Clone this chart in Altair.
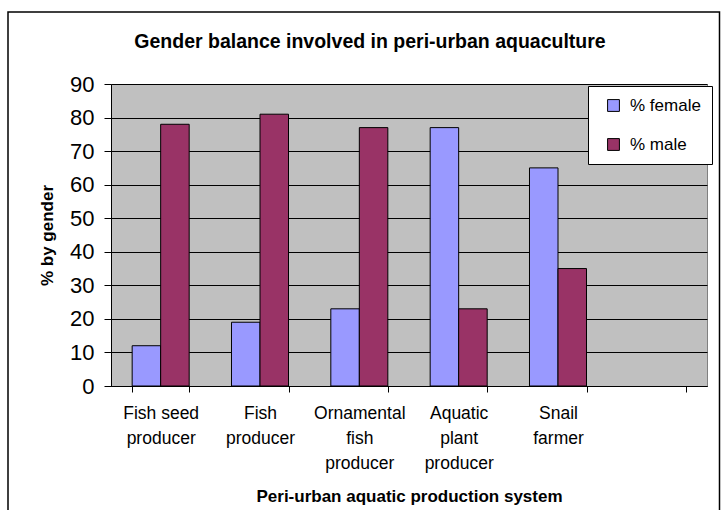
import altair as alt
import pandas as pd

categories = ["Fish seed|producer", "Fish|producer", "Ornamental|fish|producer",
              "Aquatic|plant|producer", "Snail|farmer"]
blank_slot = "_"
series = ["% female", "% male"]
female = [12, 19, 23, 77, 65]
male = [78, 81, 77, 23, 35]
y_ticks = [0, 10, 20, 30, 40, 50, 60, 70, 80, 90]
colors = ["#9999FF", "#993366"]

rows = []
for c, f, m in zip(categories, female, male):
    rows.append({"cat": c, "series": series[0], "value": f})
    rows.append({"cat": c, "series": series[1], "value": m})
df = pd.DataFrame(rows)

FONT = "Liberation Sans"

bars = alt.Chart(df).mark_bar(stroke="black", strokeWidth=1).encode(
    x=alt.X("cat:N", sort=categories + [blank_slot],
            scale=alt.Scale(domain=categories + [blank_slot], paddingInner=0.426, paddingOuter=0.213),
            axis=alt.Axis(title="Peri-urban aquatic production system",
                          labelExpr="datum.label == '_' ? '' : split(datum.label, '|')",
                          labelAngle=0, labelFontSize=17.5, labelLineHeight=25,
                          labelColor="black", labelFont=FONT, labelPadding=12,
                          tickBand="extent", tickSize=6, tickColor="black",
                          domainColor="black", titleFontSize=17, titleFont=FONT,
                          titleFontWeight="bold", titleColor="black", titlePadding=17,
                          grid=False)),
    xOffset=alt.XOffset("series:N", sort=series,
                        scale=alt.Scale(paddingInner=0, paddingOuter=0)),
    y=alt.Y("value:Q", scale=alt.Scale(domain=[0, 90], nice=False),
            axis=alt.Axis(title="% by gender", values=y_ticks, labelFontSize=22,
                          labelFont=FONT, labelColor="black", labelPadding=10,
                          tickSize=7, tickColor="black", domainColor="black",
                          grid=True, gridColor="black", gridWidth=1, gridOpacity=1,
                          titleFontSize=17, titleFont=FONT, titleFontWeight="bold",
                          titleColor="black", titlePadding=13)),
    color=alt.Color("series:N", sort=series,
                    scale=alt.Scale(domain=series, range=colors),
                    legend=alt.Legend(title=None, orient="none", legendX=477, legendY=2,
                                      fillColor="white", strokeColor="black",
                                      padding=11, rowPadding=21, symbolType="square",
                                      symbolSize=140, symbolStrokeColor="black",
                                      symbolStrokeWidth=1, symbolOffset=6,
                                      labelFontSize=17, labelFont=FONT, labelColor="black",
                                      labelOffset=8, symbolOpacity=1)),
)

frame = alt.Chart(pd.DataFrame({"k": [0]})).mark_rect(
    fillOpacity=0, stroke="black", strokeWidth=1.5, clip=False
).encode(x=alt.value(-103), x2=alt.value(608.5), y=alt.value(-72), y2=alt.value(440))

chart = alt.layer(frame, bars).properties(
    width=596, height=302,
    view=alt.ViewBackground(fill="#C0C0C0", stroke="#808080", strokeWidth=1),
    autosize=alt.AutoSizeParams(type="none"),
    padding={"left": 111, "top": 84, "right": 14, "bottom": 124},
    title=alt.TitleParams("Gender balance involved in peri-urban aquaculture",
                          fontSize=19.5, font=FONT, fontWeight="bold", color="black",
                          anchor="middle", frame="group", dx=-39, offset=-56,
                          baseline="alphabetic"),
).configure(background="white")

chart.save("out.html", embed_options={"renderer": "svg", "actions": False})
